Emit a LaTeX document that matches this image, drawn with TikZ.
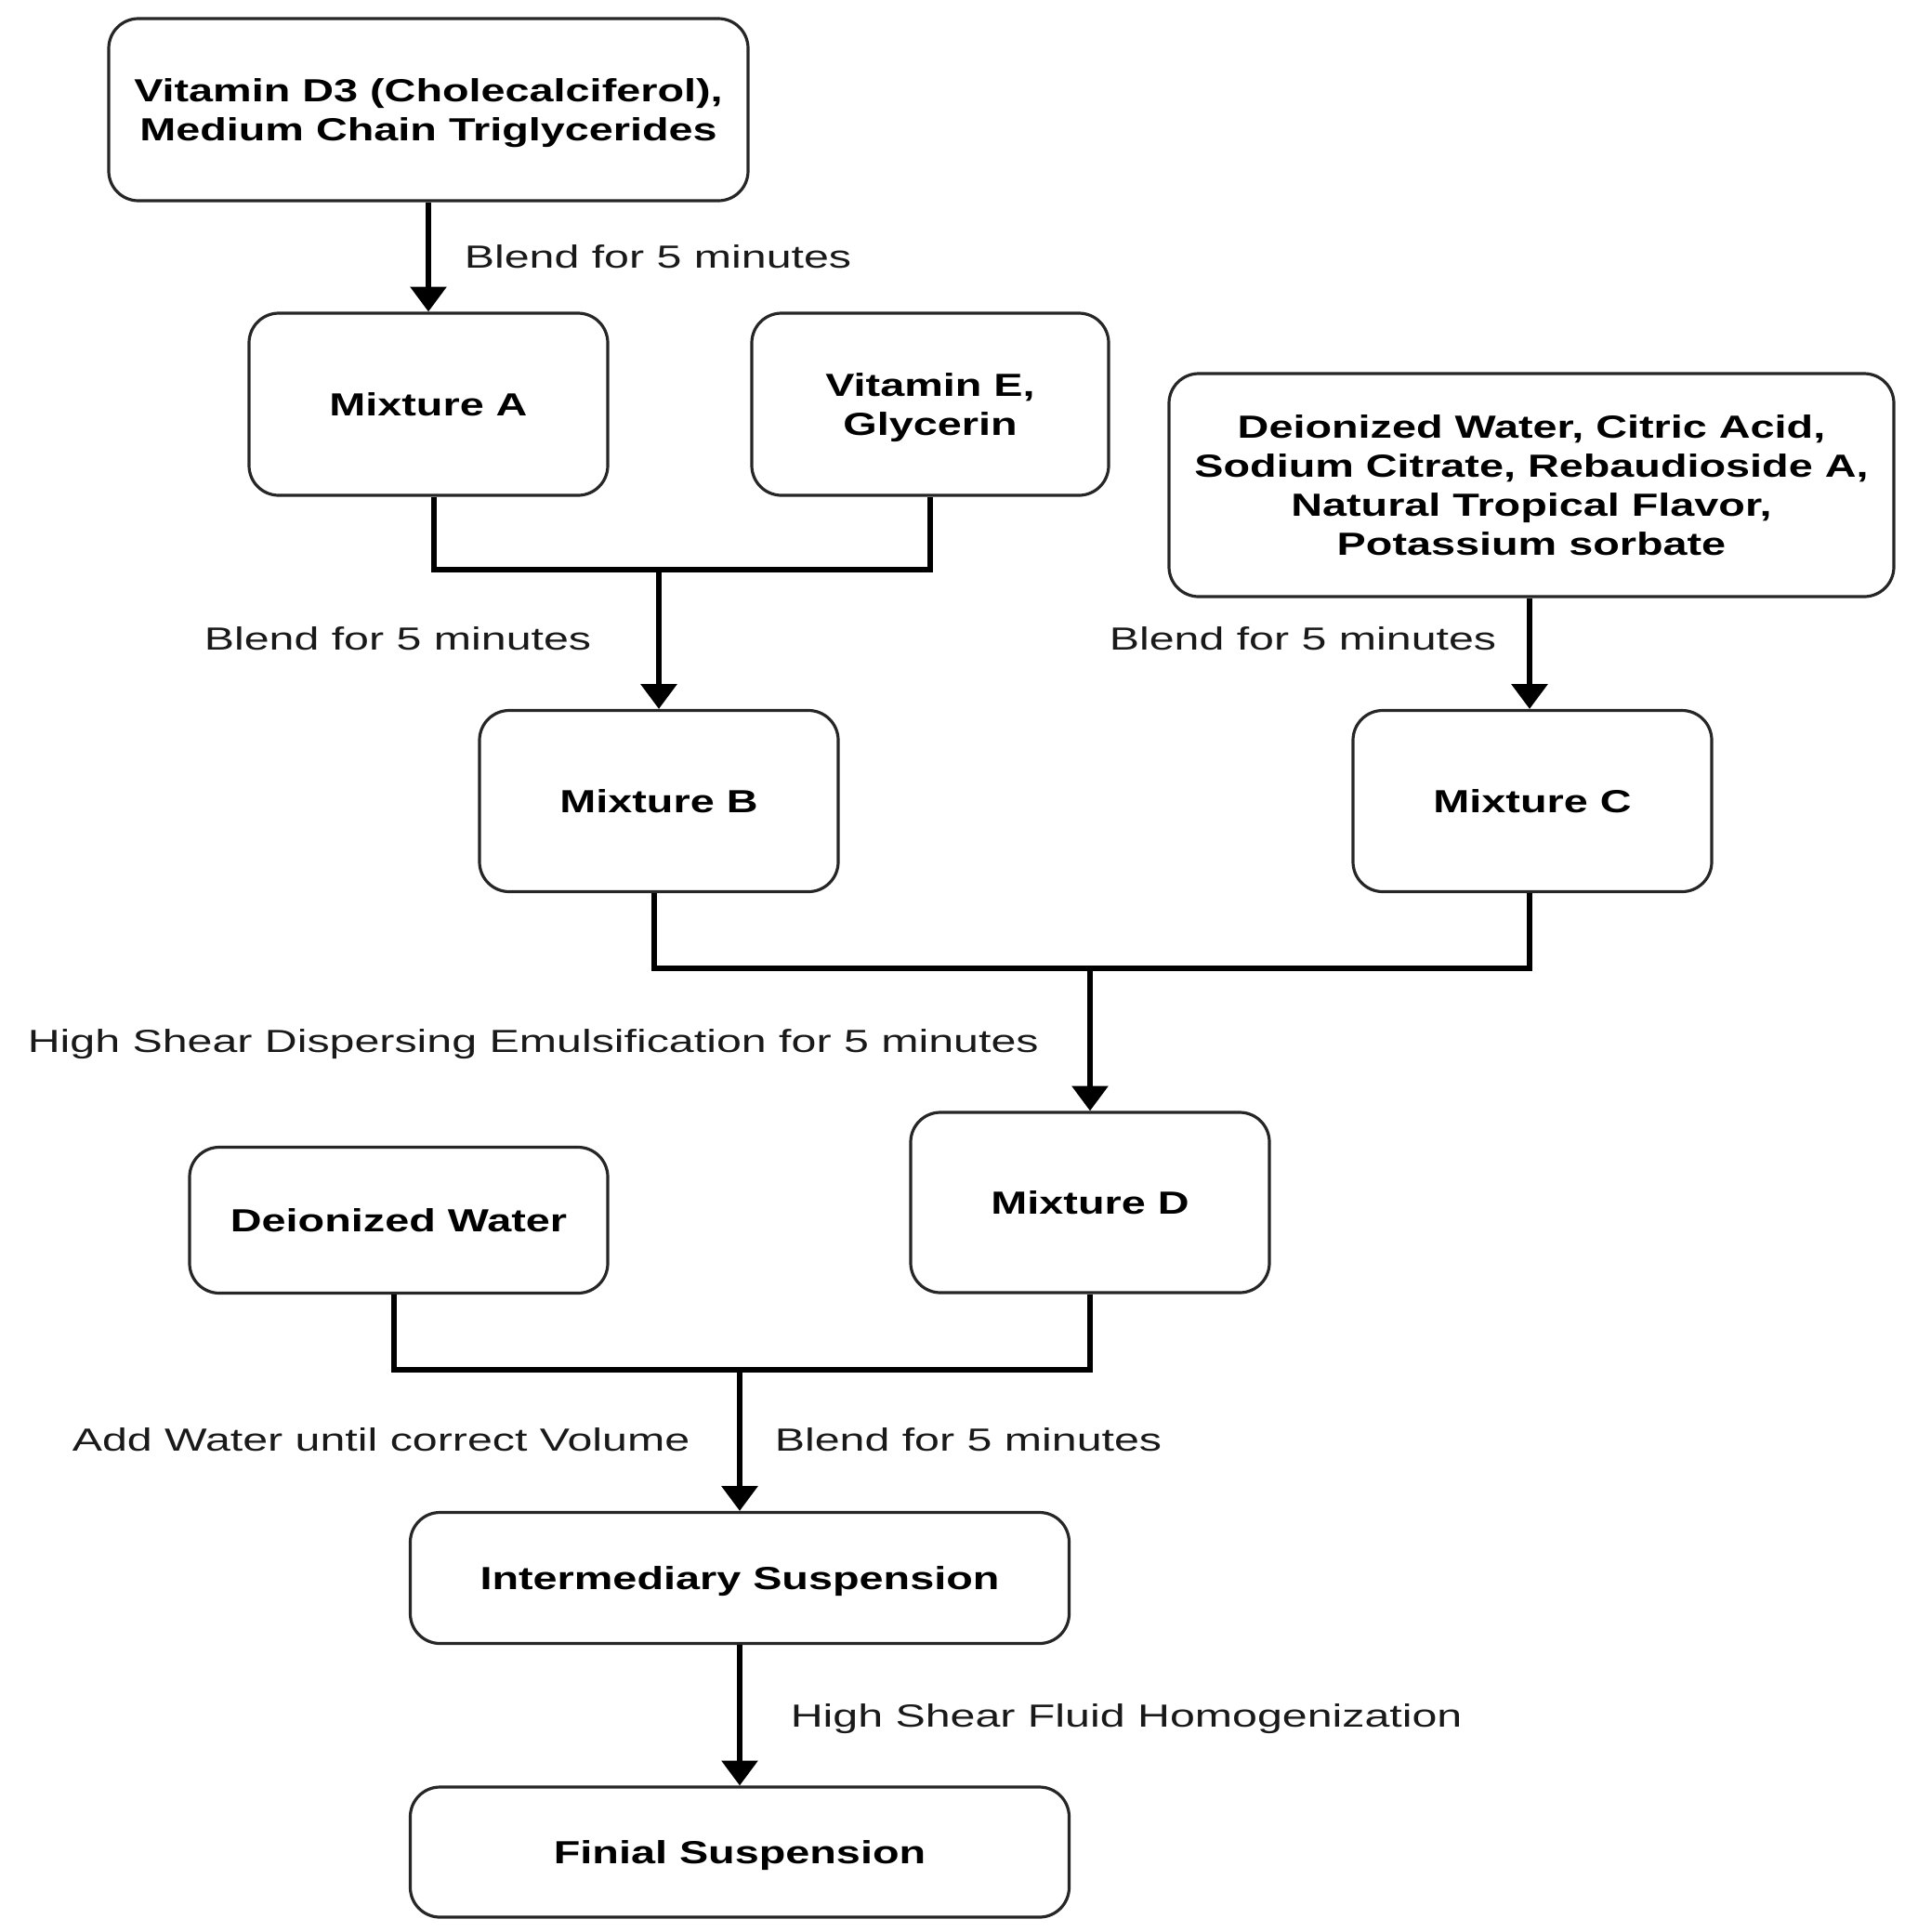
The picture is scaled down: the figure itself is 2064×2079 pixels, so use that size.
\documentclass[tikz,border=0pt]{standalone}
\usepackage{fontspec}
\setmainfont{Liberation Sans}[FakeStretch=1.405]
\newfontfamily\boxfont{Liberation Sans}[FakeStretch=1.36]
\usetikzlibrary{arrows.meta}
\begin{document}
\begin{tikzpicture}[x=0.25pt,y=-0.25pt,
  box/.style={draw=black!85, line width=0.8pt, rounded corners=8pt, fill=white,
    align=center, font=\fontsize{8.6}{10.5}\selectfont\boxfont\bfseries, inner sep=0pt, text depth=0pt},
  lbl/.style={anchor=west, inner sep=0pt, text=black!90, text depth=0pt, font=\fontsize{8.6}{10.5}\selectfont},
  wire/.style={line width=1.5pt, black, line join=miter},
  arr/.style={wire, -{Triangle[width=9.5pt,length=6.7pt]}}
]
\useasboundingbox (0,0) rectangle (2064,2079);
% boxes
\node[box, minimum width=172pt, minimum height=49pt] (top) at (461,118)
  {Vitamin D3 (Cholecalciferol),\\Medium Chain Triglycerides};
\node[box, minimum width=96.5pt, minimum height=49pt] (A) at (461,435) {Mixture A};
\node[box, minimum width=96pt, minimum height=49pt] (E) at (1001,435) {Vitamin E,\\Glycerin};
\node[box, minimum width=195pt, minimum height=60pt] (W) at (1648,522)
  {Deionized Water, Citric Acid,\\Sodium Citrate, Rebaudioside A,\\Natural Tropical Flavor,\\Potassium sorbate};
\node[box, minimum width=96.5pt, minimum height=48.75pt] (B) at (709,862) {Mixture B};
\node[box, minimum width=96.5pt, minimum height=48.75pt] (C) at (1649,862) {Mixture C};
\node[box, minimum width=96.5pt, minimum height=48.5pt] (D) at (1173,1294) {Mixture D};
\node[box, minimum width=112.5pt, minimum height=39.25pt] (DW) at (429,1313) {Deionized Water};
\node[box, minimum width=177.25pt, minimum height=35.25pt] (I) at (796,1698) {Intermediary Suspension};
\node[box, minimum width=177.25pt, minimum height=35pt] (F) at (796,1993) {Finial Suspension};
% junctions
\coordinate (j1) at (709,613);
\coordinate (j2) at (1173,1042);
\coordinate (j3) at (796,1474);
% connectors
\draw[arr] (top.south) -- (A.north);
\draw[wire] ([xshift=1.5pt]A.south) |- (j1) -| (E.south);
\draw[arr] (j1) -- (B.north);
\draw[arr] ([xshift=-0.5pt]W.south) -- ([xshift=-0.5pt]W.south |- C.north);
\draw[wire] ([xshift=-1.25pt]B.south) |- (j2) -| ([xshift=-0.75pt]C.south);
\draw[arr] (j2) -- (D.north);
\draw[wire] ([xshift=-1.25pt]DW.south) |- (j3) -| (D.south);
\draw[arr] (j3) -- (I.north);
\draw[arr] (I.south) -- (F.north);
% labels
\node[lbl] (l1) at (499,276) {Blend for 5 minutes};
\node[lbl] (l2) at (219,687) {Blend for 5 minutes};
\node[lbl] (l3) at (1193,687) {Blend for 5 minutes};
\node[lbl] (l4) at (29,1120) {High Shear Dispersing Emulsification for 5 minutes};
\node[lbl] (l5) at (77,1549) {Add Water until correct Volume};
\node[lbl] (l6) at (833,1549) {Blend for 5 minutes};
\node[lbl] (l7) at (850,1846) {High Shear Fluid Homogenization};
\end{tikzpicture}
\end{document}
